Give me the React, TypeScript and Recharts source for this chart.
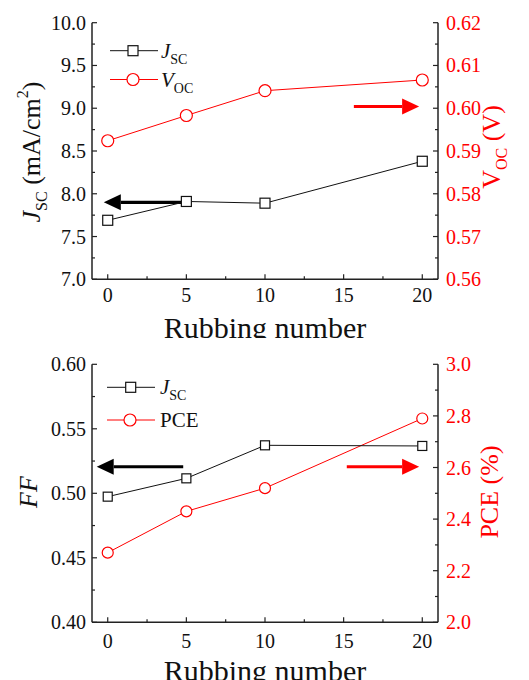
import React from 'react';
import { ComposedChart, Line, XAxis, YAxis, ReferenceLine, Customized } from 'recharts';

// ---------- data ----------
const rubbing = [0, 5, 10, 20];
const jscValues = [7.69, 7.91, 7.89, 8.38];
const vocValues = [0.5924, 0.5983, 0.6041, 0.6066];
const ffValues = [0.4974, 0.5116, 0.5372, 0.5367];
const pceValues = [2.27, 2.43, 2.52, 2.79];

const xMajor = [0, 5, 10, 15, 20];
const xMinor = [2.5, 7.5, 12.5, 17.5];
const jscMajor = [7.0, 7.5, 8.0, 8.5, 9.0, 9.5, 10.0];
const jscMinor = [7.25, 7.75, 8.25, 8.75, 9.25, 9.75];
const vocMajor = [0.56, 0.57, 0.58, 0.59, 0.6, 0.61, 0.62];
const vocMinor = [0.565, 0.575, 0.585, 0.595, 0.605, 0.615];
const ffMajor = [0.4, 0.45, 0.5, 0.55, 0.6];
const ffMinor = [0.425, 0.475, 0.525, 0.575];
const pceMajor = [2.0, 2.2, 2.4, 2.6, 2.8, 3.0];
const pceMinor = [2.1, 2.3, 2.5, 2.7, 2.9];

// arrows (data coordinates)
const topLeftArrow = { from: 5, to: -0.25, y: 7.9 };
const topRightArrow = { from: 15.65, to: 19.8, y: 0.6004 };
const botLeftArrow = { from: 4.8, to: -0.7, y: 0.5206 };
const botRightArrow = { from: 15.2, to: 19.8, y: 2.603 };

const topData = rubbing.map((r, i) => ({ x: r, a: jscValues[i], b: vocValues[i] }));
const botData = rubbing.map((r, i) => ({ x: r, a: ffValues[i], b: pceValues[i] }));

const FONT = "'Liberation Serif', 'Times New Roman', 'DejaVu Serif', serif";
const AX = '#222';
const RED = '#ff0000';
const fs = (size: number, extra: any = {}) => ({ fontFamily: FONT, fontSize: size, ...extra });

const isIn = (arr: number[], v: number) => arr.some((a) => Math.abs(a - v) < 1e-9);

const makeXTick = (dir: number, showLabel: boolean, labelDy: number) => (props: any) => {
  const { x, y, payload } = props;
  const v = payload.value;
  const major = isIn(xMajor, v);
  return (
    <g>
      <line x1={x} x2={x} y1={y} y2={y + dir * (major ? 5 : 3)} stroke={AX} strokeWidth={1.2} />
      {major && showLabel && (
        <text x={x} y={y + labelDy} textAnchor="middle" style={fs(20)} fill="#111">
          {v}
        </text>
      )}
    </g>
  );
};

const makeYTick = (side: 'left' | 'right', major: number[], digits: number, color: string) => (props: any) => {
  const { x, y, payload } = props;
  const v = payload.value;
  const isMajor = isIn(major, v);
  const dir = side === 'left' ? 1 : -1;
  return (
    <g>
      <line x1={x} x2={x + dir * (isMajor ? 5 : 3)} y1={y} y2={y} stroke={AX} strokeWidth={1.2} />
      {isMajor && (
        <text
          x={side === 'left' ? x - 6 : x + 8}
          y={y}
          dy="0.35em"
          textAnchor={side === 'left' ? 'end' : 'start'}
          style={fs(20)}
          fill={color}
        >
          {v.toFixed(digits)}
        </text>
      )}
    </g>
  );
};

const makeArrow = (color: string) => (props: any) => {
  const { x1, y1, x2, y2 } = props;
  if (x1 == null || x2 == null) return <g />;
  const dir = x2 > x1 ? 1 : -1;
  const headLen = 17;
  const headHalf = 8;
  const baseX = x2 - dir * headLen;
  return (
    <g>
      <line x1={x1} y1={y1} x2={baseX} y2={y2} stroke={color} strokeWidth={3.2} />
      <polygon points={`${x2},${y2} ${baseX},${y2 - headHalf} ${baseX},${y2 + headHalf}`} fill={color} />
    </g>
  );
};

const SquareDot = (size: number) => (props: any) => {
  const { cx, cy, index } = props;
  if (cx == null || cy == null) return <g key={`s${index}`} />;
  return (
    <rect
      key={`s${index}`}
      x={cx - size / 2}
      y={cy - size / 2}
      width={size}
      height={size}
      fill="#fff"
      stroke="#111"
      strokeWidth={1.2}
    />
  );
};

const CircleDot = (r: number) => (props: any) => {
  const { cx, cy, index } = props;
  if (cx == null || cy == null) return <g key={`c${index}`} />;
  return <circle key={`c${index}`} cx={cx} cy={cy} r={r} fill="#fff" stroke={RED} strokeWidth={1.2} />;
};

type Cfg = {
  data: any[];
  height: number;
  marginTop: number;
  xHeight: number;
  leftDomain: [number, number];
  rightDomain: [number, number];
  leftTicks: number[];
  rightTicks: number[];
  leftMajor: number[];
  rightMajor: number[];
  leftDigits: number;
  rightDigits: number;
  xLabelDy: number;
  sq: number;
  cr: number;
  la: { from: number; to: number; y: number };
  ra: { from: number; to: number; y: number };
  overlay: React.ReactNode;
};

function DualChart(c: Cfg) {
  const xTicks = [...xMajor, ...xMinor].sort((a, b) => a - b);
  return (
    <ComposedChart
      width={529}
      height={c.height}
      data={c.data}
      margin={{ top: c.marginTop, right: 0, bottom: 0, left: 0 }}
    >
      <XAxis
        dataKey="x"
        type="number"
        domain={[-1, 21]}
        ticks={xTicks}
        interval={0}
        height={c.xHeight}
        axisLine={{ stroke: AX, strokeWidth: 1.5 }}
        tickLine={false}
        tickSize={0}
        tickMargin={0}
        tick={makeXTick(-1, true, c.xLabelDy)}
      />
      <XAxis
        xAxisId="top"
        orientation="top"
        dataKey="x"
        type="number"
        domain={[-1, 21]}
        ticks={xTicks}
        interval={0}
        height={0}
        axisLine={{ stroke: AX, strokeWidth: 1.5 }}
        tickLine={false}
        tickSize={0}
        tickMargin={0}
        tick={makeXTick(1, false, 0)}
      />
      <YAxis
        yAxisId="left"
        type="number"
        domain={c.leftDomain}
        ticks={c.leftTicks}
        interval={0}
        width={92}
        axisLine={{ stroke: AX, strokeWidth: 1.5 }}
        tickLine={false}
        tickSize={0}
        tickMargin={0}
        tick={makeYTick('left', c.leftMajor, c.leftDigits, '#111')}
      />
      <YAxis
        yAxisId="right"
        orientation="right"
        type="number"
        domain={c.rightDomain}
        ticks={c.rightTicks}
        interval={0}
        width={91}
        axisLine={{ stroke: AX, strokeWidth: 1.5 }}
        tickLine={false}
        tickSize={0}
        tickMargin={0}
        tick={makeYTick('right', c.rightMajor, c.rightDigits, RED)}
      />
      <ReferenceLine
        yAxisId="left"
        segment={[
          { x: c.la.from, y: c.la.y },
          { x: c.la.to, y: c.la.y },
        ]}
        shape={makeArrow('#000')}
      />
      <ReferenceLine
        yAxisId="right"
        segment={[
          { x: c.ra.from, y: c.ra.y },
          { x: c.ra.to, y: c.ra.y },
        ]}
        shape={makeArrow(RED)}
      />
      <Line
        yAxisId="right"
        dataKey="b"
        stroke={RED}
        strokeWidth={1}
        dot={CircleDot(c.cr)}
        isAnimationActive={false}
      />
      <Line
        yAxisId="left"
        dataKey="a"
        stroke="#111"
        strokeWidth={1}
        dot={SquareDot(c.sq)}
        isAnimationActive={false}
      />
      <Customized component={() => <g>{c.overlay}</g>} />
    </ComposedChart>
  );
}

const LegendRow = ({ y, x1, x2, mx, tx, kind, children }: any) => (
  <g>
    <line x1={x1} x2={x2} y1={y} y2={y} stroke={kind === 'sq' ? '#111' : RED} strokeWidth={1} />
    {kind === 'sq' ? (
      <rect x={mx - 5} y={y - 5} width={10} height={10} fill="#fff" stroke="#111" strokeWidth={1.2} />
    ) : (
      <circle cx={mx} cy={y} r={6} fill="#fff" stroke={RED} strokeWidth={1.2} />
    )}
    <text x={tx} y={y + 7} style={fs(21)} fill="#111">
      {children}
    </text>
  </g>
);

const topOverlay = (
  <g>
    <LegendRow y={50.7} x1={110} x2={158} mx={133} tx={161} kind="sq">
      <tspan fontStyle="italic">J</tspan>
      <tspan fontSize={14} dy={6}>SC</tspan>
    </LegendRow>
    <LegendRow y={79.5} x1={110} x2={158} mx={133} tx={161} kind="ci">
      <tspan fontStyle="italic">V</tspan>
      <tspan fontSize={14} dy={6}>OC</tspan>
    </LegendRow>
    <text x={40} y={152} transform="rotate(-90 40 152)" textAnchor="middle" style={fs(26)} fill="#111">
      <tspan fontStyle="italic">J</tspan>
      <tspan fontSize={16} dy={7}>SC</tspan>
      <tspan dy={-7}> (mA/cm</tspan>
      <tspan fontSize={16} dy={-12}>2</tspan>
      <tspan dy={12}>)</tspan>
    </text>
    <text x={500} y={147} transform="rotate(-90 500 147)" textAnchor="middle" style={fs(26)} fill={RED}>
      <tspan>V</tspan>
      <tspan fontSize={16} dy={7}>OC</tspan>
      <tspan dy={-7}> (V)</tspan>
    </text>
    <text x={265} y={338} textAnchor="middle" style={fs(30)} fill="#111">
      Rubbing number
    </text>
  </g>
);

const botOverlay = (
  <g>
    <LegendRow y={49.3} x1={107} x2={155} mx={130.7} tx={160} kind="sq">
      <tspan fontStyle="italic">J</tspan>
      <tspan fontSize={14} dy={6}>SC</tspan>
    </LegendRow>
    <LegendRow y={82} x1={107} x2={155} mx={130} tx={160} kind="ci">
      PCE
    </LegendRow>
    <text
      x={37}
      y={154}
      transform="rotate(-90 37 154)"
      textAnchor="middle"
      style={fs(26, { fontStyle: 'italic' })}
      fill="#111"
    >
      FF
    </text>
    <text x={498} y={154} transform="rotate(-90 498 154)" textAnchor="middle" style={fs(26)} fill={RED}>
      PCE (%)
    </text>
    <text x={265} y={343} textAnchor="middle" style={fs(30)} fill="#111">
      Rubbing number
    </text>
  </g>
);

export default function App() {
  return (
    <div
      style={{
        position: 'absolute',
        left: 0,
        top: 0,
        width: 529,
        height: 680,
        background: '#fff',
        fontFamily: FONT,
      }}
    >
      <div style={{ position: 'absolute', left: 0, top: 0 }}>
        <DualChart
          data={topData}
          height={338}
          marginTop={22.7}
          xHeight={58.7}
          leftDomain={[7, 10]}
          rightDomain={[0.56, 0.62]}
          leftTicks={[...jscMajor, ...jscMinor]}
          rightTicks={[...vocMajor, ...vocMinor]}
          leftMajor={jscMajor}
          rightMajor={vocMajor}
          leftDigits={1}
          rightDigits={2}
          xLabelDy={23}
          sq={10}
          cr={6}
          la={topLeftArrow}
          ra={topRightArrow}
          overlay={topOverlay}
        />
      </div>
      <div style={{ position: 'absolute', left: 0, top: 338 }}>
        <DualChart
          data={botData}
          height={342}
          marginTop={26.3}
          xHeight={57.7}
          leftDomain={[0.4, 0.6]}
          rightDomain={[2.0, 3.0]}
          leftTicks={[...ffMajor, ...ffMinor]}
          rightTicks={[...pceMajor, ...pceMinor]}
          leftMajor={ffMajor}
          rightMajor={pceMajor}
          leftDigits={2}
          rightDigits={1}
          xLabelDy={26}
          sq={9}
          cr={5.5}
          la={botLeftArrow}
          ra={botRightArrow}
          overlay={botOverlay}
        />
      </div>
    </div>
  );
}
